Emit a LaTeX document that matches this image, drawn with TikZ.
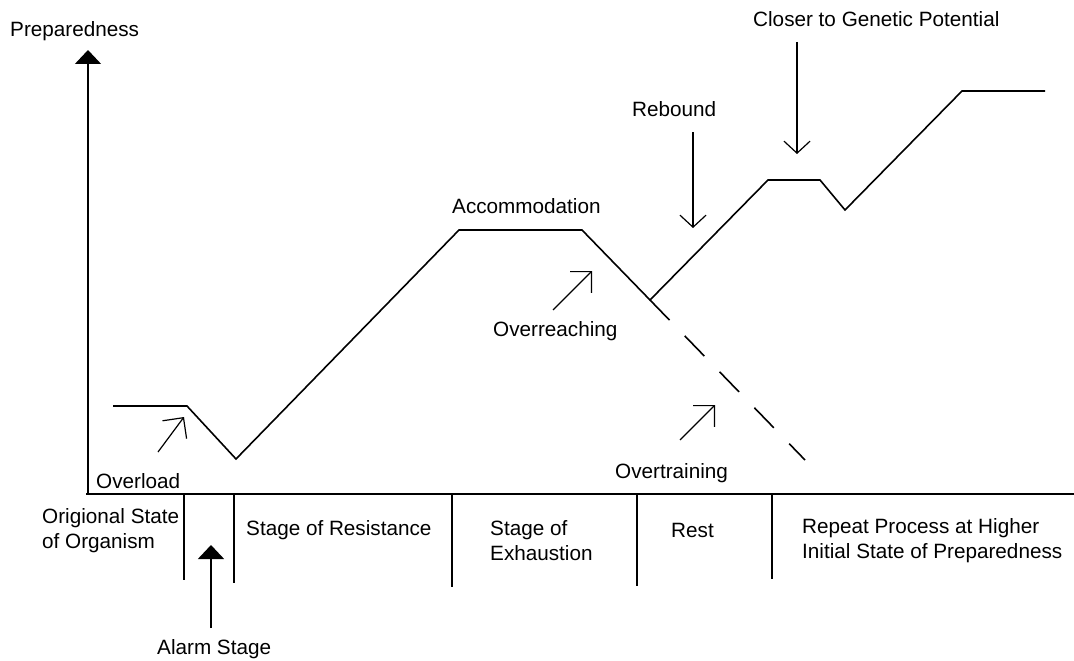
\documentclass[tikz,border=0pt]{standalone}
\usepackage{fontspec}
\setmainfont{Liberation Sans}
\usetikzlibrary{arrows.meta,positioning}
\tikzset{
  every node/.append style={font=\fontsize{20.7}{25}\selectfont, inner sep=0pt},
}
\tikzset{
  axis/.style={line width=2pt},
  curve/.style={line width=1.6pt, line join=miter},
  divider/.style={line width=1.5pt},
  lbl/.style={anchor=base west, align=left}
}

\begin{document}
\begin{tikzpicture}[
  x=1pt, y=-1pt,
  bigarrow/.style={line width=1.5pt, -{Triangle[length=14pt, width=26pt]}},
  cornerarrow/.style={line width=1.2pt, -{Straight Barb[length=15pt, width=30pt, line width=1.2pt]}},
  downarrow/.style={line width=1.2pt, -{Straight Barb[length=12pt, width=26pt, line width=1.2pt]}},
  overtrain/.style={line width=1.6pt, dash pattern=on 28pt off 22pt}
]
\useasboundingbox (0,0) rectangle (1074,661);

% ============= Axes =============
\coordinate (origin) at (88,494);
\coordinate (ytip) at (88,50);
\coordinate (xend) at (1074,494);
\node[lbl] (ylabel) at (10,37) {Preparedness};
\draw[bigarrow] (origin) -- (ytip);
\draw[axis] (86,494) -- (xend);

% stage dividers
\foreach \x/\y in {184/580, 234/583, 452/587, 637/586, 772/579}
  \draw[divider] (\x,494) -- (\x,\y);

% ============= Preparedness curve =============
\coordinate (p0) at (113,406);
\coordinate (p1) at (187,406);
\coordinate (p2) at (236,459);
\coordinate (p3) at (459,230);
\coordinate (p4) at (582,230);
\coordinate (p5) at (650,300);
\coordinate (p6) at (768,180);
\coordinate (p7) at (820,180);
\coordinate (p8) at (845,210);
\coordinate (p9) at (962,91);
\coordinate (p10) at (1045,91);
\draw[curve] (p0) -- (p1) -- (p2) -- (p3) -- (p4) -- (p5) -- (p6) -- (p7) -- (p8) -- (p9) -- (p10);

% overtraining branch
\coordinate (otend) at (805,460);
\draw[overtrain] (p5) -- (otend);

% ============= Curve labels =============
\node[lbl] (overload) at (96,488) {Overload};
\node[lbl] (accom) at (452,213) {Accommodation};
\node[lbl] (overreach) at (493,336) {Overreaching};
\node[lbl] (overtrain) at (615,478) {Overtraining};
\node[lbl] (rebound) at (632,117) {Rebound};
\node[lbl] (genetic) at (753,27) {Closer to Genetic Potential};

\coordinate (olA) at (158,452);  \coordinate (olB) at (184,417);
\coordinate (orA) at (553,310);  \coordinate (orB) at (592,271);
\coordinate (otA) at (680,440);  \coordinate (otB) at (715,405);
\draw[cornerarrow] (olA) -- (olB);
\draw[cornerarrow] (orA) -- (orB);
\draw[cornerarrow] (otA) -- (otB);

\coordinate (rbA) at (693,132);  \coordinate (rbB) at (693,228);
\coordinate (gpA) at (797,42);   \coordinate (gpB) at (797,154);
\draw[downarrow] (rbA) -- (rbB);
\draw[downarrow] (gpA) -- (gpB);

% ============= Stage labels =============
% (base of a two-line label is its last line)
\node[lbl] (orig) at (42,548) {Origional State\\of Organism};
\node[lbl] (resist) at (246,535) {Stage of Resistance};
\node[lbl] (exhaust) at (490,560) {Stage of\\Exhaustion};
\node[lbl] (rest) at (671,537) {Rest};
\node[lbl] (repeat) at (802,558) {Repeat Process at Higher\\Initial State of Preparedness};

\node[lbl] (alarm) at (157,654) {Alarm Stage};
\coordinate (alarmA) at (211,628);
\coordinate (alarmB) at (211,545);
\draw[bigarrow] (alarmA) -- (alarmB);

\end{tikzpicture}
\end{document}
